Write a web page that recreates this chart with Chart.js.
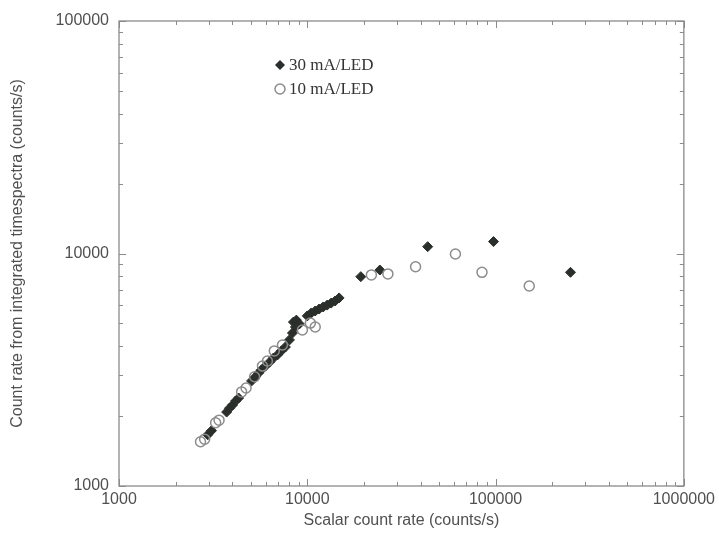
<!DOCTYPE html>
<html><head><meta charset="utf-8">
<script src="https://cdn.jsdelivr.net/npm/chart.js@4.4.1/dist/chart.umd.min.js"></script>
<style>html,body{margin:0;padding:0;background:#fff;} #wrap{width:719px;height:536px;}</style>
</head><body><div id="wrap"><canvas id="c" width="719" height="536"></canvas></div>
<script>
const xTickValues = [1000, 10000, 100000, 1000000];
const yTickValues = [1000, 10000, 100000];
const seriesNames = ['30 mA/LED', '10 mA/LED'];
const xTitle = 'Scalar count rate (counts/s)';
const yTitle = 'Count rate from integrated timespectra (counts/s)';

const scalar30 = [2960, 3100, 3730, 3860, 4010, 4160, 4320, 5060, 5310, 5510, 5710, 6000, 6300, 6610, 6940, 7280, 7650, 8040, 8340, 8440, 8750, 9080, 8650, 10000, 10500, 11020, 11560, 12150, 12760, 13390, 14060, 14760, 19240, 24300, 43600, 97500, 250000];
const integ30  = [1660, 1730, 2080, 2160, 2230, 2320, 2390, 2830, 2950, 3060, 3160, 3280, 3410, 3550, 3660, 3810, 3960, 4250, 4550, 5070, 5170, 4980, 4830, 5390, 5550, 5660, 5770, 5890, 6000, 6120, 6250, 6440, 7950, 8490, 10700, 11250, 8300];

const scalar10 = [2710, 2850, 3260, 3400, 4480, 4730, 5250, 5780, 6140, 6680, 7380, 9420, 10380, 11020, 21900, 26800, 37600, 61200, 84700, 151000];
const integ10  = [1550, 1590, 1870, 1920, 2540, 2640, 2950, 3280, 3450, 3810, 4040, 4690, 5020, 4830, 8090, 8170, 8770, 9950, 8300, 7250];

const toPts = (xs, ys) => xs.map((v, i) => ({x: v, y: ys[i]}));

const DIAMOND = '#2b2f2b';
const RING = '#8c8c8c';
const AXIS = '#8a8a8a';
const TEXT = '#505050';

const framePlugin = {
  id: 'frame',
  beforeDatasetsDraw(chart) {
    const {ctx, chartArea: a, scales: {x, y}} = chart;
    ctx.save();
    ctx.strokeStyle = AXIS; ctx.lineWidth = 1.3;
    ctx.strokeRect(a.left, a.top, a.right - a.left, a.bottom - a.top);
    ctx.lineWidth = 1;
    ctx.beginPath();
    for (let d = 1000; d < 1000000; d *= 10) {
      for (let m = 1; m <= 10; m++) {
        const v = d * m;
        const px = Math.round(x.getPixelForValue(v)) + 0.5;
        const len = (m === 1 || m === 10) ? 7 : 4;
        ctx.moveTo(px, a.bottom); ctx.lineTo(px, a.bottom - len);
        ctx.moveTo(px, a.top); ctx.lineTo(px, a.top + len);
      }
    }
    for (let d = 1000; d < 100000; d *= 10) {
      for (let m = 1; m <= 10; m++) {
        const v = d * m;
        const py = Math.round(y.getPixelForValue(v)) + 0.5;
        const len = (m === 1 || m === 10) ? 7 : 4;
        ctx.moveTo(a.left, py); ctx.lineTo(a.left + len, py);
        ctx.moveTo(a.right, py); ctx.lineTo(a.right - len, py);
      }
    }
    ctx.stroke();
    ctx.restore();
  }
};

const legendPlugin = {
  id: 'customLegend',
  afterDraw(chart) {
    const ctx = chart.ctx;
    ctx.save();
    const mx = 280, r = 5;
    const rows = [65, 89];
    // diamond
    ctx.fillStyle = DIAMOND;
    ctx.beginPath();
    ctx.moveTo(mx, rows[0] - r); ctx.lineTo(mx + r, rows[0]); ctx.lineTo(mx, rows[0] + r); ctx.lineTo(mx - r, rows[0]);
    ctx.closePath(); ctx.fill();
    // ring
    ctx.strokeStyle = RING; ctx.lineWidth = 1.5;
    ctx.beginPath(); ctx.arc(mx, rows[1], r, 0, Math.PI * 2); ctx.stroke();
    ctx.fillStyle = '#333';
    ctx.font = '17px "Liberation Serif", "DejaVu Serif", serif';
    ctx.textBaseline = 'middle';
    ctx.fillText(seriesNames[0], 289, rows[0] + 1);
    ctx.fillText(seriesNames[1], 289, rows[1] + 1);
    ctx.restore();
  }
};

const tickFont = {family: '"Liberation Sans", Arial, sans-serif', size: 16};
const titleFont = {family: '"Liberation Sans", Arial, sans-serif', size: 16};

new Chart(document.getElementById('c'), {
  type: 'scatter',
  data: {
    datasets: [
      {
        label: seriesNames[1],
        data: toPts(scalar10, integ10),
        pointStyle: 'circle', pointRadius: 5, pointBorderWidth: 1.5,
        borderColor: RING, backgroundColor: 'rgba(255,255,255,0)',
        pointBackgroundColor: 'rgba(255,255,255,0)', pointBorderColor: RING
      },
      {
        label: seriesNames[0],
        data: toPts(scalar30, integ30),
        pointStyle: 'rectRot', pointRadius: 5, pointBorderWidth: 1,
        borderColor: DIAMOND, backgroundColor: DIAMOND,
        pointBackgroundColor: DIAMOND, pointBorderColor: DIAMOND
      }
    ]
  },
  options: {
    responsive: false,
    animation: false,
    devicePixelRatio: 1,
    layout: {padding: {left: 0, right: 33, top: 21, bottom: 0}},
    plugins: {legend: {display: false}, tooltip: {enabled: false}},
    scales: {
      x: {
        type: 'logarithmic', min: 1000, max: 1000000,
        afterBuildTicks: s => { s.ticks = xTickValues.map(v => ({value: v})); },
        afterFit: s => { s.height = 50; },
        grid: {display: false, drawTicks: false},
        border: {display: false},
        ticks: {color: TEXT, font: tickFont, padding: 4, maxRotation: 0, autoSkip: false, callback: v => String(v)},
        title: {display: true, text: xTitle, color: TEXT, font: titleFont, padding: {top: 0, bottom: 6}}
      },
      y: {
        type: 'logarithmic', min: 1000, max: 100000,
        afterBuildTicks: s => { s.ticks = yTickValues.map(v => ({value: v})); },
        afterFit: s => { s.width = 119; },
        grid: {display: false, drawTicks: false},
        border: {display: false},
        ticks: {color: TEXT, font: tickFont, padding: 10, autoSkip: false, callback: v => String(v)},
        title: {display: true, text: yTitle, color: TEXT, font: titleFont, padding: {top: 8, bottom: 0}}
      }
    }
  },
  plugins: [framePlugin, legendPlugin]
});
</script>
</body></html>
